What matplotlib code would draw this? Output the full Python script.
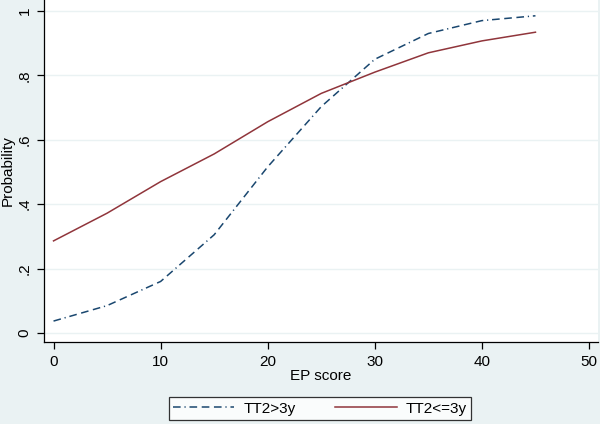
import matplotlib
matplotlib.use("Agg")
import matplotlib.pyplot as plt

ep_score = [0, 5, 10, 15, 20, 25, 30, 35, 40, 45]
prob_gt3y = [0.037, 0.085, 0.16, 0.305, 0.516, 0.703, 0.85, 0.93, 0.97, 0.985]
prob_le3y = [0.286, 0.372, 0.47, 0.556, 0.656, 0.744, 0.81, 0.87, 0.907, 0.934]
x_ticks = [0, 10, 20, 30, 40, 50]
y_ticks = [0, 0.2, 0.4, 0.6, 0.8, 1.0]
y_tick_labels = ["0", ".2", ".4", ".6", ".8", "1"]

bg = "#EAF2F3"
navy = "#1A476F"
maroon = "#90353B"

plt.rcParams['font.family'] = ['Liberation Sans', 'DejaVu Sans']

fig = plt.figure(figsize=(6, 4.24), dpi=100, facecolor=bg)
ax = fig.add_axes([44/600, 1 - 342/424, (598-44)/600, 342/424])
ax.set_facecolor("white")

ax.plot(ep_score, prob_gt3y, color=navy, lw=1.1,
        linestyle=(0, (5, 2.5, 0.8, 2.5, 5, 3, 5, 3)), label="TT2>3y")
ax.plot(ep_score, prob_le3y, color=maroon, lw=1.1, label="TT2<=3y")

ax.set_xlim(-0.89, 50.84)
ax.set_ylim(-0.028, 1.034)
ax.set_xticks(x_ticks)
ax.set_yticks(y_ticks)
ax.set_yticklabels(y_tick_labels, rotation=90, va="center")
ax.grid(axis="y", color=bg, lw=1.0)
ax.set_axisbelow(True)
for s in ["top", "right"]:
    ax.spines[s].set_visible(False)
for s in ["left", "bottom"]:
    ax.spines[s].set_color("black")
    ax.spines[s].set_linewidth(0.9)
ax.tick_params(axis="both", length=5, width=0.9, color="black", labelsize=11, pad=4)

ax.set_xlabel("EP score", fontsize=11, labelpad=0)
ax.set_ylabel("Probability", fontsize=11, labelpad=2)

leg = fig.legend(loc="center", bbox_to_anchor=((173+467)/2/600, 1 - (394+423)/2/424),
                 ncol=2, frameon=True, fancybox=False, edgecolor="black",
                 facecolor="white", fontsize=11, handlelength=4.0,
                 columnspacing=2.6, borderpad=0.3, handletextpad=0.6,
                 borderaxespad=0)
leg.get_frame().set_linewidth(0.9)

fig.savefig("out.png", dpi=100, facecolor=bg)
